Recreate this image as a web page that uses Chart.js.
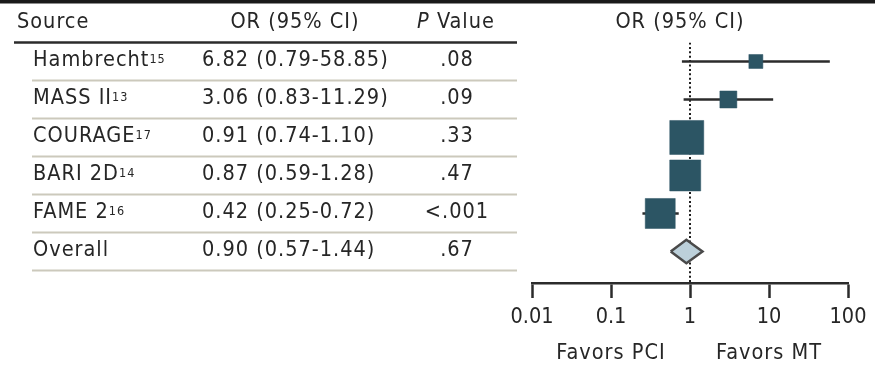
<!DOCTYPE html>
<html>
<head>
<meta charset="utf-8">
<script src="https://cdn.jsdelivr.net/npm/chart.js@4/dist/chart.umd.min.js"></script>
<style>
  html, body { margin: 0; padding: 0; background: #fff; }
  #wrap { width: 875px; height: 365px; }
</style>
</head>
<body>
<div id="wrap"><canvas id="forest" width="875" height="365"></canvas></div>
<script>
// Trials pooled in the meta-analysis (PCI vs medical therapy)
const studies   = ['Hambrecht', 'MASS II', 'COURAGE', 'BARI 2D', 'FAME 2'];
const refNums   = ['15', '13', '17', '14', '16'];
const oddsRatio = [6.82, 3.06, 0.91, 0.87, 0.42];
const ciLow     = [0.79, 0.83, 0.74, 0.59, 0.25];
const ciHigh    = [58.85, 11.29, 1.10, 1.28, 0.72];
const pValues   = ['.08', '.09', '.33', '.47', '<.001'];

// Pooled estimate
const overallLabel = 'Overall';
const overallOR    = 0.90;
const overallLow   = 0.57;
const overallHigh  = 1.44;
const overallP     = '.67';

// Log axis ticks
const axisTicks  = [0.01, 0.1, 1, 10, 100];
const tickLabels = ['0.01', '0.1', '1', '10', '100'];

// ---- styling ----
// prefer the condensed face when it is installed
function pickFont() {
  const probe = document.createElement('canvas').getContext('2d');
  probe.font = '40px "DejaVu Sans Condensed", monospace';
  const a = probe.measureText('Hambrecht MASS').width;
  probe.font = '40px monospace';
  const b = probe.measureText('Hambrecht MASS').width;
  return Math.abs(a - b) > 1
    ? { family: '"DejaVu Sans Condensed", sans-serif', size: 21.5, track: '1px' }
    : { family: '"DejaVu Sans", sans-serif', size: 20, track: '0px' };
}
const F = pickFont();
const FONT = F.family;
const FS = F.size;
const TEXT = '#262626';
const MARK = '#2c5564';
const INK = '#2b2b2b';
const markerSide = [14, 17, 34, 31, 30];   // square side (px), weight-scaled
const DIAMOND_HALF = 0.31;                 // half height of pooled diamond, in rows
const overallRow = studies.length;
const Y_MIN = -0.5, Y_MAX = 5.83;

const fmt = v => v.toFixed(2);
const ciText = (o, l, h) => `${fmt(o)} (${fmt(l)}-${fmt(h)})`;

// confidence-interval whiskers, one line per study
const whiskers = studies.map((s, i) => ({
  type: 'line',
  data: [{ x: ciLow[i], y: i }, { x: ciHigh[i], y: i }],
  borderColor: INK, borderWidth: 2.5, pointRadius: 0, order: 3
}));

const datasets = [
  // line of no effect at OR = 1
  {
    type: 'line',
    data: [{ x: 1, y: Y_MIN }, { x: 1, y: Y_MAX }],
    borderColor: '#1e1e1e', borderWidth: 2, borderDash: [2, 2.4],
    pointRadius: 0, order: 5
  },
  ...whiskers,
  // point estimates
  {
    type: 'scatter',
    data: oddsRatio.map((v, i) => ({ x: v, y: i })),
    pointStyle: 'rect',
    pointRadius: markerSide.map(s => s / Math.SQRT2),
    backgroundColor: MARK, borderColor: MARK, borderWidth: 0.5, order: 1
  },
  // pooled diamond
  {
    type: 'line',
    data: [
      { x: overallLow, y: overallRow },
      { x: overallOR, y: overallRow - DIAMOND_HALF },
      { x: overallHigh, y: overallRow },
      { x: overallOR, y: overallRow + DIAMOND_HALF },
      { x: overallLow, y: overallRow }
    ],
    fill: 'shape', backgroundColor: '#bcd0da',
    borderColor: '#4a4a4a', borderWidth: 2.5, pointRadius: 0, tension: 0, order: 1
  }
];

// table columns and frame drawn beside the plot
const tablePlugin = {
  id: 'forestTable',
  beforeDraw(chart) {
    const c = chart.ctx;
    c.save();
    c.fillStyle = '#fff';
    c.fillRect(0, 0, chart.width, chart.height);
    c.restore();
  },
  afterDraw(chart) {
    const c = chart.ctx;
    const ys = chart.scales.y, xs = chart.scales.x;
    const reg = `${FS}px ${FONT}`;
    const ital = `italic ${FS}px ${FONT}`;
    c.save();
    // top rule
    c.fillStyle = '#1a1a1a';
    c.fillRect(0, 0, chart.width, 3.5);

    c.letterSpacing = F.track;
    c.fillStyle = TEXT;
    c.textBaseline = 'middle';
    const headY = 22.5;
    c.font = reg;
    c.textAlign = 'left';
    c.fillText('Source', 17, headY);
    c.textAlign = 'center';
    c.fillText('OR (95% CI)', 295, headY);
    c.fillText('OR (95% CI)', 680, headY);
    // "P Value" with italic P
    c.font = ital;
    const wP = c.measureText('P').width;
    c.font = reg;
    const wV = c.measureText(' Value').width;
    const pStart = 456 - (wP + wV) / 2;
    c.textAlign = 'left';
    c.font = ital;
    c.fillText('P', pStart, headY);
    c.font = reg;
    c.fillText(' Value', pStart + wP, headY);

    // header rule
    const headRule = ys.getPixelForValue(Y_MIN);
    c.strokeStyle = '#2b2b2b';
    c.lineWidth = 2.5;
    c.beginPath(); c.moveTo(14, headRule); c.lineTo(517, headRule); c.stroke();

    const rows = studies.map((s, i) => ({
      name: s, ref: refNums[i], ci: ciText(oddsRatio[i], ciLow[i], ciHigh[i]), p: pValues[i]
    }));
    rows.push({ name: overallLabel, ref: '', ci: ciText(overallOR, overallLow, overallHigh), p: overallP });

    rows.forEach((r, i) => {
      const y = ys.getPixelForValue(i) - 1;
      c.font = reg;
      c.textAlign = 'left';
      c.textBaseline = 'middle';
      c.fillStyle = TEXT;
      c.fillText(r.name, 33, y);
      if (r.ref) {
        const w = c.measureText(r.name).width;
        c.font = `12.5px ${FONT}`;
        c.textBaseline = 'alphabetic';
        c.fillText(r.ref, 33 + w, y + 2.5);
        c.font = reg;
        c.textBaseline = 'middle';
      }
      c.fillText(r.ci, 202, y);
      c.textAlign = 'center';
      c.fillText(r.p, 457, y);

      const sep = ys.getPixelForValue(i + 0.5);
      c.strokeStyle = '#ccc9bc';
      c.lineWidth = 2;
      c.beginPath(); c.moveTo(32, sep); c.lineTo(517, sep); c.stroke();
    });

    // direction labels under the axis
    c.font = reg;
    c.textAlign = 'center';
    c.textBaseline = 'middle';
    c.fillStyle = TEXT;
    c.fillText('Favors PCI', xs.getPixelForValue(0.1), 353);
    c.fillText('Favors MT', xs.getPixelForValue(10), 353);
    c.restore();
  }
};

new Chart(document.getElementById('forest'), {
  type: 'scatter',
  data: { datasets },
  options: {
    responsive: false,
    animation: false,
    devicePixelRatio: 1,
    layout: { padding: { left: 532, right: 27, top: 42.5, bottom: 0 } },
    plugins: { legend: { display: false }, tooltip: { enabled: false } },
    scales: {
      x: {
        type: 'logarithmic',
        position: 'bottom',
        min: 0.01, max: 100,
        afterBuildTicks: s => { s.ticks = axisTicks.map(v => ({ value: v })); },
        afterFit: s => { s.height = 82; },
        ticks: {
          autoSkip: false, maxRotation: 0, padding: 7,
          color: TEXT, font: { family: FONT, size: FS },
          callback: v => tickLabels[axisTicks.indexOf(v)]
        },
        grid: {
          drawOnChartArea: false, drawTicks: true, tickLength: 15,
          tickColor: INK, tickWidth: 2.5
        },
        border: { display: true, color: INK, width: 2.5 }
      },
      y: {
        type: 'linear', reverse: true, min: Y_MIN, max: Y_MAX, display: false
      }
    }
  },
  plugins: [tablePlugin]
});
</script>
</body>
</html>
